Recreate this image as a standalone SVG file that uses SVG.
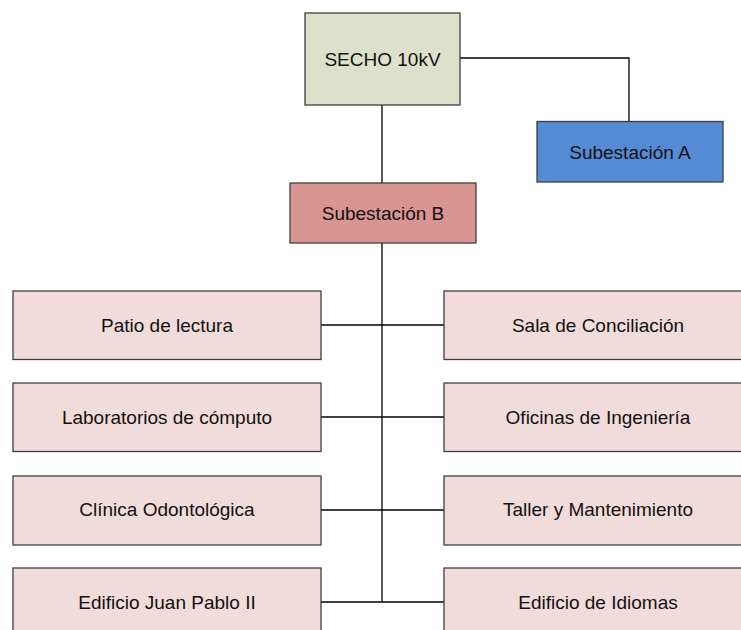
<svg xmlns="http://www.w3.org/2000/svg" width="741" height="630" viewBox="0 0 741 630">
<style>
.box{stroke:#3f3f3f;stroke-width:1.3}
.leaf{fill:#f2dcdb}
.lbl{font-family:"Liberation Sans",Arial,sans-serif;font-size:19px;fill:#111;text-anchor:middle;dominant-baseline:central}
.wire{fill:none;stroke:#000;stroke-width:1.3}
</style>
<rect width="741" height="630" fill="#fff"/>
<g id="connectors">
<polyline class="wire" points="460,58 629,58 629,121"/>
<line class="wire" x1="382" y1="105" x2="382" y2="183"/>
<line class="wire" x1="382" y1="243" x2="382" y2="602"/>
<line class="wire" x1="321" y1="325" x2="444" y2="325"/>
<line class="wire" x1="321" y1="417" x2="444" y2="417"/>
<line class="wire" x1="321" y1="510" x2="444" y2="510"/>
<line class="wire" x1="321" y1="602" x2="444" y2="602"/>
</g>
<g id="secho"><rect class="box" x="305" y="13" width="155" height="92" fill="#dde1cb"/><text class="lbl" x="382.5" y="59">SECHO 10kV</text></g>
<g id="subA"><rect class="box" x="537" y="121.5" width="186" height="60.5" fill="#558ad5"/><text class="lbl" x="630" y="152">Subestación A</text></g>
<g id="subB"><rect class="box" x="290" y="183" width="186" height="60" fill="#d99592"/><text class="lbl" x="383" y="213">Subestación B</text></g>
<g id="patio"><rect class="box leaf" x="13" y="291" width="308" height="68.5"/><text class="lbl" x="167" y="325">Patio de lectura</text></g>
<g id="sala"><rect class="box leaf" x="444" y="291" width="308" height="68.5"/><text class="lbl" x="598" y="325">Sala de Conciliación</text></g>
<g id="lab"><rect class="box leaf" x="13" y="383" width="308" height="68.5"/><text class="lbl" x="167" y="417">Laboratorios de cómputo</text></g>
<g id="ofi"><rect class="box leaf" x="444" y="383" width="308" height="68.5"/><text class="lbl" x="598" y="417">Oficinas de Ingeniería</text></g>
<g id="clinica"><rect class="box leaf" x="13" y="476" width="308" height="69"/><text class="lbl" x="167" y="509">Clínica Odontológica</text></g>
<g id="taller"><rect class="box leaf" x="444" y="476" width="308" height="69"/><text class="lbl" x="598" y="509">Taller y Mantenimiento</text></g>
<g id="juan"><rect class="box leaf" x="13" y="568" width="308" height="70"/><text class="lbl" x="167" y="602">Edificio Juan Pablo II</text></g>
<g id="idiomas"><rect class="box leaf" x="444" y="568" width="308" height="70"/><text class="lbl" x="598" y="602">Edificio de Idiomas</text></g>
</svg>
